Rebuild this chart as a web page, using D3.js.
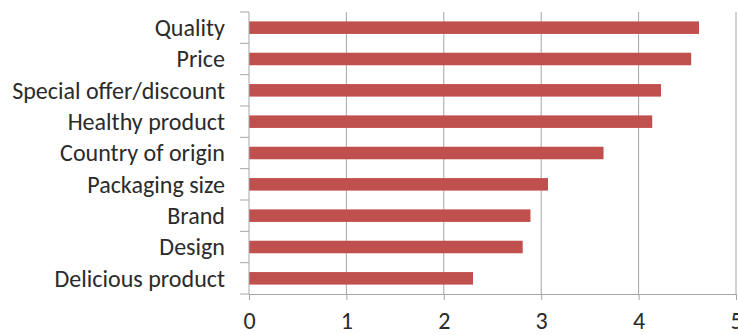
<!DOCTYPE html>
<html>
<head>
<meta charset="utf-8">
<script src="https://cdn.jsdelivr.net/npm/d3@7"></script>
<style>
  html, body { margin: 0; padding: 0; background: #fff; }
  svg { display: block; }
  text { font-family: Carlito, "Open Sans", "Noto Sans", sans-serif; fill: #2b2b2b; }
</style>
</head>
<body>
<svg id="chart" width="738" height="335"></svg>
<script>
// Purchase factor ratings (mean score on a 0–5 scale)
const categories = [
  "Quality", "Price", "Special offer/discount", "Healthy product",
  "Country of origin", "Packaging size", "Brand", "Design", "Delicious product"
];
const values = [4.62, 4.54, 4.23, 4.14, 3.64, 3.07, 2.89, 2.81, 2.30];
const xTicks = [0, 1, 2, 3, 4, 5];

const W = 738, H = 335;
const margin = { top: 12, right: 2, bottom: 41, left: 249 };
const svg = d3.select("#chart");

const x = d3.scaleLinear().domain([0, 5]).range([margin.left, W - margin.right]);
const y = d3.scaleBand().domain(categories).range([margin.top, H - margin.bottom])
  .paddingInner(0.6).paddingOuter(0.3);
const band = d3.scaleBand().domain(categories).range([margin.top, H - margin.bottom]);

const gridColor = "#a6a6a6";

// vertical gridlines
svg.append("g")
  .selectAll("line")
  .data(xTicks.slice(1))
  .join("line")
  .attr("x1", d => x(d)).attr("x2", d => x(d))
  .attr("y1", margin.top).attr("y2", H - margin.bottom)
  .attr("stroke", gridColor).attr("stroke-width", 1);

// bars
svg.append("g")
  .selectAll("rect")
  .data(categories)
  .join("rect")
  .attr("x", x(0))
  .attr("y", d => y(d))
  .attr("width", (d, i) => x(values[i]) - x(0))
  .attr("height", y.bandwidth())
  .attr("fill", "#c0504d");

// category axis with ticks at band boundaries
const yAxis = svg.append("g").attr("transform", `translate(${x(0)},0)`);
yAxis.append("line")
  .attr("x1", 0).attr("x2", 0)
  .attr("y1", margin.top).attr("y2", H - margin.bottom)
  .attr("stroke", gridColor);
const bounds = categories.map(c => band(c)).concat([H - margin.bottom]);
yAxis.selectAll("line.tick")
  .data(bounds)
  .join("line").attr("class", "tick")
  .attr("x1", -9).attr("x2", 0)
  .attr("y1", d => d).attr("y2", d => d)
  .attr("stroke", gridColor);
const labels = yAxis.selectAll("text")
  .data(categories)
  .join("text")
  .attr("x", -24)
  .attr("y", d => band(d) + band.bandwidth() / 2)
  .attr("dy", "0.35em")
  .attr("text-anchor", "end")
  .style("font-size", "18px")
  .text(d => d);

// fit label font so the longest label spans the available width
const longest = labels.filter(d => d === "Special offer/discount").node();
const w = longest.getComputedTextLength();
const fs = 18 * 213 / w;
labels.style("font-size", fs + "px");

// value axis
const xAxis = d3.axisBottom(x).tickValues(xTicks).tickSize(6).tickPadding(12).tickFormat(d3.format("d"));
const gx = svg.append("g")
  .attr("transform", `translate(0,${H - margin.bottom})`)
  .call(xAxis);
gx.select(".domain").attr("stroke", gridColor);
gx.selectAll(".tick line").attr("stroke", gridColor);
gx.selectAll(".tick text")
  .style("font-size", fs + "px")
  .attr("fill", "#2b2b2b");
</script>
</body>
</html>
